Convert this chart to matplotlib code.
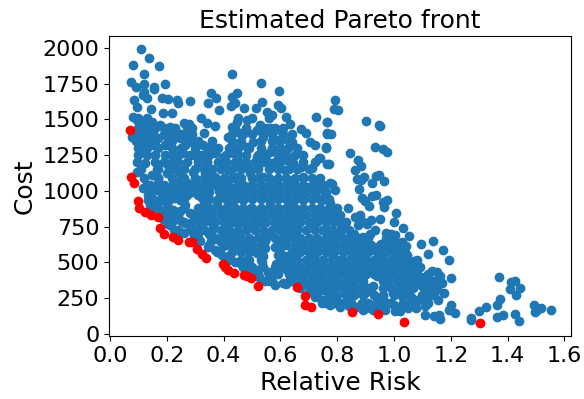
import numpy as np
import matplotlib
matplotlib.use("Agg")
import matplotlib.pyplot as plt

# (relative risk, cost) pairs, grouped by region
upper_left = [
    (.108, 1989), (.136, 1930), (.082, 1879), (.174, 1872), (.120, 1814), (.073, 1763),
    (.195, 1747), (.119, 1745), (.092, 1728), (.156, 1728), (.156, 1709), (.119, 1694),
    (.084, 1635), (.094, 1584), (.131, 1647), (.117, 1670), (.182, 1647), (.205, 1642),
    (.235, 1635), (.241, 1612), (.281, 1630), (.185, 1547), (.217, 1547), (.143, 1570),
    (.082, 1514), (.094, 1495), (.117, 1461), (.147, 1484), (.176, 1461), (.211, 1449),
    (.229, 1426), (.076, 1379), (.106, 1368), (.141, 1379), (.170, 1368), (.200, 1379),
    (.247, 1368), (.270, 1391), (.106, 1321), (.111, 1274), (.153, 1321), (.194, 1321),
    (.264, 1321), (.288, 1344), (.194, 1251), (.214, 1193), (.258, 1263), (.293, 1251),
    (.094, 1205), (.123, 1193), (.158, 1205), (.094, 1135), (.147, 1112), (.200, 1123),
    (.247, 1123), (.293, 1135), (.223, 1054), (.270, 1058), (.129, 1042), (.164, 1042),
    (.260, 1472), (.279, 1468), (.270, 1444),
]
upper_mid = [
    (.430, 1814), (.533, 1754), (.594, 1698), (.355, 1682), (.448, 1682), (.346, 1616),
    (.373, 1647), (.385, 1565), (.428, 1658), (.440, 1612), (.425, 1595), (.534, 1623),
    (.513, 1577), (.473, 1577), (.591, 1600), (.601, 1577), (.552, 1549), (.569, 1530),
    (.618, 1519), (.727, 1514), (.763, 1484), (.634, 1465), (.671, 1430), (.690, 1407),
    (.763, 1398), (.704, 1340), (.722, 1321), (.761, 1305), (.681, 1251), (.737, 1228),
    (.765, 1188), (.722, 1205), (.671, 1165), (.710, 1158), (.319, 1507), (.340, 1472),
    (.371, 1454), (.332, 1407), (.417, 1374), (.428, 1449), (.446, 1484), (.481, 1495),
    (.528, 1461), (.517, 1426), (.563, 1437), (.599, 1426), (.593, 1356), (.640, 1344),
    (.628, 1298), (.563, 1274), (.329, 1321), (.352, 1309), (.370, 1263), (.335, 1123),
    (.399, 1240), (.434, 1263), (.481, 1309), (.458, 1402), (.505, 1344), (.540, 1379),
    (.417, 1147), (.458, 1193), (.517, 1240), (.563, 1193), (.622, 1216), (.646, 1193),
    (.616, 1147), (.681, 1100), (.728, 1054), (.740, 1026), (.775, 1054), (.370, 1100),
    (.399, 1077), (.446, 1100), (.493, 1123), (.540, 1100), (.587, 1077), (.634, 1054),
    (.693, 1030), (.423, 1030), (.481, 1030), (.540, 1030), (.329, 1030),
]
lower_left = [
    (.117, 1019), (.135, 972), (.158, 891), (.194, 844), (.211, 763), (.164, 1007),
    (.211, 1007), (.229, 1042), (.264, 1007), (.317, 1030), (.370, 1042), (.247, 937),
    (.247, 856), (.282, 844), (.329, 891), (.323, 949), (.270, 972), (.293, 995),
    (.223, 867), (.194, 926), (.135, 937), (.141, 902), (.164, 891), (.264, 774),
    (.305, 798), (.282, 728), (.329, 809), (.247, 716), (.311, 705), (.364, 751),
    (.370, 588), (.387, 647), (.352, 786), (.405, 774), (.399, 612), (.423, 553),
    (.458, 495), (.481, 518), (.517, 449), (.564, 367), (.608, 356), (.658, 391),
]
lower_mid = [
    (.751, 239), (.728, 274), (.775, 298), (.704, 332), (.446, 635), (.493, 658),
    (.540, 681), (.540, 542), (.517, 565), (.575, 426), (.622, 449), (.681, 449),
    (.716, 402), (.751, 356), (.423, 891), (.470, 937), (.517, 844), (.446, 774),
    (.493, 751), (.540, 774), (.587, 844), (.634, 891), (.681, 937), (.728, 867),
    (.704, 774), (.658, 751), (.622, 681), (.681, 635), (.740, 635), (.646, 565),
    (.704, 542), (.622, 542), (.751, 518), (.763, 728), (.775, 914), (.751, 1007),
    (.704, 1030), (.634, 1030), (.587, 984), (.540, 1007), (.481, 1030), (.429, 984),
    (.376, 914), (.399, 844), (.458, 844), (.564, 914), (.611, 728), (.581, 774),
    (.669, 844), (.751, 821),
]
right_upper = [
    (.792, 1635), (.789, 1572), (.802, 1565), (.900, 1488), (.765, 1484), (.946, 1463),
    (.952, 1454), (.765, 1402), (.778, 1398), (.761, 1302), (.933, 1305), (.962, 1295),
    (.975, 1274), (.845, 1263), (.739, 1228), (.873, 1216), (.770, 1188), (.885, 1172),
    (.864, 1146), (.948, 1112), (.937, 1105), (.893, 1100), (.869, 1081), (.883, 1077),
    (.966, 1072), (.924, 1053), (.783, 1049), (.792, 1007), (.878, 1012), (.745, 1016),
    (.886, 949), (.937, 972), (.921, 965), (.745, 933), (.974, 933), (.898, 926),
    (.962, 921), (.913, 891), (.965, 886), (.837, 881), (1.006, 844), (.775, 844),
    (.757, 832), (.880, 828), (.863, 814), (.918, 798), (.951, 800), (.798, 798),
    (1.000, 781), (.892, 779), (.874, 760), (.904, 770), (1.030, 739), (.932, 728),
    (.816, 751), (.810, 705), (.971, 709), (.988, 698), (1.004, 691), (.860, 700),
    (1.052, 688), (.892, 681),
]
right_dense = [
    (.751, 728), (.786, 681), (.822, 612), (.857, 658), (.892, 635), (.933, 588),
    (.962, 565), (1.004, 542), (1.033, 588), (.751, 588), (.786, 542), (.822, 519),
    (.857, 565), (.892, 542), (.933, 495), (.968, 472), (1.009, 449), (1.045, 472),
    (1.074, 449), (.757, 449), (.792, 402), (.827, 426), (.863, 449), (.892, 402),
    (.939, 402), (.974, 379), (1.015, 379), (1.051, 379), (1.092, 356), (.751, 309),
    (.786, 286), (.822, 333), (.857, 309), (.898, 286), (.927, 333), (.962, 263),
    (.998, 286), (1.033, 309), (1.068, 321), (.763, 239), (.810, 216), (.845, 239),
    (.886, 216), (.939, 228), (.980, 216), (1.027, 263), (1.056, 263), (.751, 228),
]
right_tail = [
    (1.136, 649), (1.095, 628), (1.027, 642), (1.042, 618), (1.174, 588), (1.119, 556),
    (1.045, 553), (1.009, 577), (1.194, 516), (1.072, 507), (1.086, 467), (1.133, 442),
    (1.150, 435), (1.162, 402), (1.200, 388), (1.168, 356), (1.127, 367), (1.371, 398),
    (1.427, 372), (1.411, 363), (1.444, 321), (1.408, 314), (1.429, 274), (1.177, 286),
    (1.097, 332), (1.144, 298), (1.156, 239), (1.115, 239), (1.062, 251), (1.373, 244),
    (1.364, 205), (1.202, 205), (1.493, 205), (1.518, 181), (1.554, 165), (1.497, 151),
    (1.502, 170), (1.324, 186), (1.299, 163), (1.195, 170), (1.213, 146), (1.076, 184),
    (1.050, 184), (1.109, 193), (1.021, 158), (1.004, 158), (1.109, 135), (1.142, 128),
    (1.162, 105), (1.160, 135), (1.271, 114), (1.271, 95), (1.362, 118), (1.383, 132),
    (1.427, 139), (1.439, 91), (.890, 165), (.927, 170), (.968, 170),
]
# Lower edge of the cloud, just above the front
lower_edge = [
    (.150, 880), (.185, 800), (.205, 770), (.225, 730), (.262, 705), (.295, 690),
    (.318, 650), (.345, 610), (.355, 650), (.375, 570), (.395, 550), (.415, 530),
    (.440, 500), (.470, 470), (.495, 450), (.525, 400), (.545, 370), (.580, 345),
    (.620, 350), (.640, 370), (.675, 340), (.700, 290), (.720, 255), (.745, 215),
    (.775, 205), (.810, 190), (.840, 195), (.870, 190), (.900, 185), (.935, 190),
    (.965, 195), (1.000, 200), (1.030, 200), (1.055, 215), (1.085, 240), (1.125, 270),
]
# Gaps the first reading left open
gap_fill = [
    (.545, 600), (.590, 550), (.565, 700), (.535, 500), (.580, 610), (.555, 430),
    (.585, 490), (.545, 650), (.590, 655), (.495, 600), (.460, 570), (.475, 620),
    (.425, 620), (.395, 680), (.420, 700), (.450, 690), (.350, 700), (.320, 760),
    (.345, 845), (.320, 860), (.265, 900), (.310, 970), (.225, 950), (.205, 890),
    (.250, 790), (.240, 1060), (.170, 1090), (.230, 1150), (.205, 1180), (.165, 1150),
    (.340, 1200), (.400, 1180), (.385, 1000), (.495, 880), (.615, 780), (.650, 700),
    (.675, 590), (.720, 480), (.780, 560), (.810, 460), (.840, 390), (.925, 440),
    (.950, 540), (.985, 500), (1.020, 480), (1.060, 410), (1.095, 400), (1.030, 530),
    (1.010, 630), (.985, 620), (.955, 630), (.915, 700), (.840, 670), (.870, 600),
]
pareto_front = [
    (.070, 1423), (.073, 1100), (.083, 1053), (.097, 930), (.103, 879), (.123, 851),
    (.144, 832), (.170, 814), (.176, 740), (.191, 698), (.223, 677), (.241, 658),
    (.278, 644), (.288, 642), (.307, 595), (.323, 560), (.338, 530), (.399, 490),
    (.405, 467), (.414, 449), (.438, 428), (.472, 414), (.483, 405), (.496, 393),
    (.520, 332), (.658, 325), (.687, 267), (.687, 202), (.708, 188), (.851, 153),
    (.944, 137), (1.034, 86), (1.303, 77),
]

# Crowded middle of the cloud, read as (cost, risks at about that cost)
core_upper = [
    (1510, [.10, .13, .45, .50, .56]),
    (1440, [.10, .13, .16, .19, .23, .29, .44, .48, .55, .58, .61]),
    (1400, [.09, .12, .15, .19, .22, .25, .29, .43, .47, .50, .54, .57, .61, .64]),
    (1350, [.09, .13, .16, .22, .27, .31, .36, .43, .46, .53, .57, .60, .63]),
    (1300, [.10, .13, .17, .22, .25, .30, .34, .38, .42, .45, .49, .53, .57, .60, .66]),
    (1250, [.10, .13, .16, .22, .24, .28, .32, .35, .41, .45, .48, .52, .55, .59, .62, .65]),
    (1200, [.19, .24, .27, .31, .34, .38, .41, .44, .48, .51, .54, .58, .60, .64, .68]),
    (1150, [.11, .17, .23, .26, .30, .33, .36, .39, .43, .46, .49, .52, .56, .59, .63, .66, .70]),
]
core_mid = [
    (1090, [.12, .17, .22, .26, .30, .33, .36, .40, .43, .46, .50, .52, .56, .59, .62, .65, .68, .71, .74]),
    (1040, [.14, .19, .25, .28, .31, .35, .38, .41, .45, .47, .50, .53, .56, .59, .62, .65, .68, .72, .75]),
    (990, [.14, .18, .20, .24, .30, .33, .35, .39, .42, .45, .48, .51, .54, .57, .60, .63, .66, .69, .72, .76]),
    (940, [.15, .18, .21, .26, .35, .38, .41, .44, .47, .50, .53, .56, .59, .62, .65, .68, .71, .74, .77]),
    (880, [.17, .20, .26, .31, .35, .38, .41, .44, .47, .50, .53, .56, .59, .62, .65, .68, .71, .74, .77, .80]),
    (830, [.21, .24, .30, .33, .36, .39, .42, .45, .48, .51, .54, .57, .60, .63, .66, .69, .72, .75, .78, .81]),
    (780, [.22, .26, .29, .33, .37, .40, .43, .47, .50, .52, .55, .58, .61, .64, .67, .70, .73, .76, .79, .83]),
    (725, [.24, .30, .33, .36, .39, .42, .45, .48, .51, .54, .57, .60, .63, .66, .69, .72, .75, .78, .81, .84]),
]
core_lower = [
    (670, [.31, .37, .40, .43, .46, .49, .52, .55, .58, .61, .64, .67, .70, .73, .76, .79, .82, .85, .88, .91, .97, 1.0]),
    (620, [.35, .41, .44, .47, .50, .53, .59, .62, .65, .68, .71, .74, .77, .80, .83, .86, .89, .92, .95, .98, 1.01]),
    (570, [.38, .43, .46, .49, .52, .60, .64, .67, .70, .73, .76, .79, .82, .85, .88, .91, .94, .97, 1.0, 1.04]),
    (520, [.42, .46, .49, .53, .60, .63, .66, .69, .72, .75, .78, .81, .84, .87, .90, .93, .96, .99, 1.02, 1.05, 1.08]),
    (470, [.47, .50, .54, .58, .61, .64, .67, .70, .73, .76, .79, .82, .85, .88, .91, .94, .97, 1.0, 1.03, 1.06, 1.09]),
    (420, [.52, .56, .59, .63, .66, .69, .72, .75, .78, .81, .84, .87, .90, .93, .96, .99, 1.02, 1.05, 1.08, 1.12]),
    (370, [.57, .63, .68, .71, .74, .77, .80, .83, .86, .89, .96, .98, 1.01, 1.04, 1.07, 1.11, 1.14]),
    (320, [.67, .73, .76, .79, .82, .85, .88, .91, .96, .99, 1.02, 1.05, 1.12, 1.15]),
    (270, [.72, .77, .80, .83, .86, .89, .93, .96, 1.00, 1.10, 1.14]),
    (220, [.76, .79, .82, .85, .91, .95, .99, 1.03, 1.12]),
]

x_ticks = [0.0, 0.2, 0.4, 0.6, 0.8, 1.0, 1.2, 1.4, 1.6]
y_ticks = [0, 250, 500, 750, 1000, 1250, 1500, 1750, 2000]

core = [(r, c) for c, risks in core_upper + core_mid + core_lower for r in risks]
cloud = np.array(upper_left + upper_mid + lower_left + lower_mid + right_upper
                 + right_dense + right_tail + lower_edge + gap_fill + core)
front = np.array(pareto_front)

fig = plt.figure(figsize=(5.84, 3.99), dpi=100)
ax = fig.add_axes([109 / 584, 1 - 336 / 399, (571 - 109) / 584, 300 / 399])

# Blue cloud first, front on top
ax.scatter(cloud[:, 0], cloud[:, 1], s=36, linewidths=1.0, color="#1f77b4")
ax.scatter(front[:, 0], front[:, 1], s=36, linewidths=1.0, color="red")

ax.set_xlim(-0.0035, 1.623)
ax.set_ylim(-14, 2082)
ax.set_xticks(x_ticks)
ax.set_yticks(y_ticks)
ax.tick_params(axis="both", which="major", labelsize=16)
ax.set_xlabel("Relative Risk", fontsize=18)
ax.set_ylabel("Cost", fontsize=18)
ax.set_title("Estimated Pareto front", fontsize=18)

fig.savefig("out.png", dpi=100)
plt.close("all")
